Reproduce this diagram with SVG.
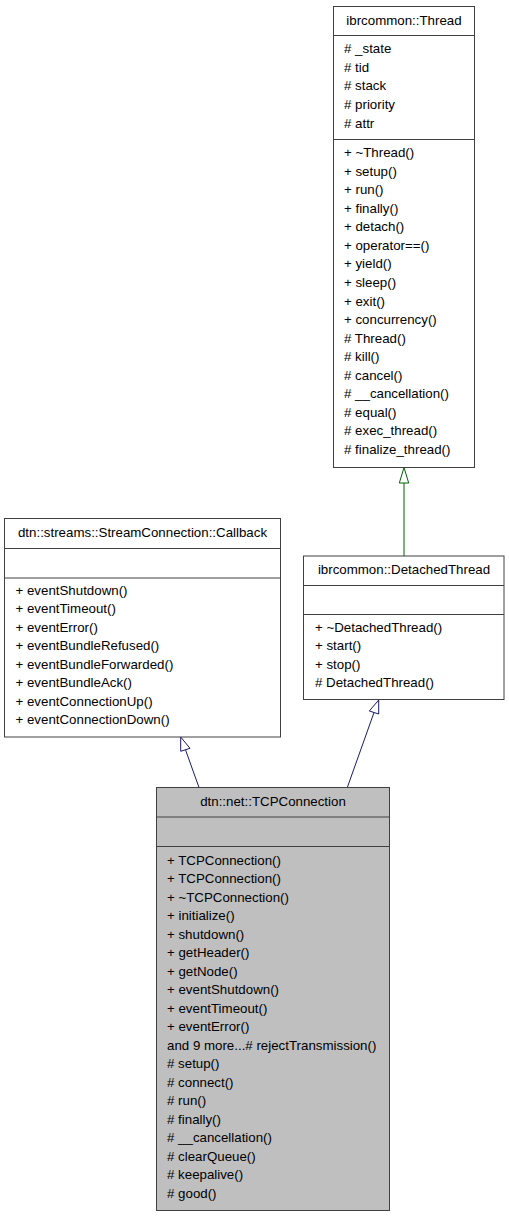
<svg xmlns="http://www.w3.org/2000/svg" width="509" height="1219" viewBox="0 0 509 1219">
<style>
text{font-family:"Liberation Sans",Arial,sans-serif;font-size:13.3px;fill:#000}
.t{text-anchor:middle}
.box{fill:#fff;stroke:#404040;stroke-width:1}
.gray{fill:#bfbfbf}
.sep{stroke:#404040;stroke-width:1}
.blue{stroke:#191970;stroke-width:1;fill:none}
.green{stroke:#006400;stroke-width:1;fill:none}
.hb{fill:#fff;stroke:#191970;stroke-width:1}
.hg{fill:#fff;stroke:#006400;stroke-width:1}
</style>
<rect width="509" height="1219" fill="#fff"/>
<g id="connectors">
<polyline class="green" points="404,556 404,483"/>
<polygon class="hg" points="404,467.5 399.3,483 408.7,483"/>
<polyline class="blue" points="199,787.5 185.5,749.8"/>
<polygon class="hb" points="180.7,737 180.7,751.3 190,748.3"/>
<polyline class="blue" points="347.3,787.5 374,712.5"/>
<polygon class="hb" points="378.7,700 369.3,711 378.7,714"/>
</g>
<g id="thread">
<rect class="box" x="333.5" y="6.5" width="141" height="461"/>
<line class="sep" x1="333.5" y1="35.5" x2="474.5" y2="35.5"/>
<line class="sep" x1="333.5" y1="139.5" x2="474.5" y2="139.5"/>
<text class="t" x="404" y="25">ibrcommon::Thread</text>
<text x="344" y="53"># _state</text>
<text x="344" y="71.7"># tid</text>
<text x="344" y="90.3"># stack</text>
<text x="344" y="109"># priority</text>
<text x="344" y="127.7"># attr</text>
<text x="344" y="157">+ ~Thread()</text>
<text x="344" y="175.6">+ setup()</text>
<text x="344" y="194.1">+ run()</text>
<text x="344" y="212.7">+ finally()</text>
<text x="344" y="231.2">+ detach()</text>
<text x="344" y="249.8">+ operator==()</text>
<text x="344" y="268.4">+ yield()</text>
<text x="344" y="286.9">+ sleep()</text>
<text x="344" y="305.5">+ exit()</text>
<text x="344" y="324">+ concurrency()</text>
<text x="344" y="342.6"># Thread()</text>
<text x="344" y="361.2"># kill()</text>
<text x="344" y="379.7"># cancel()</text>
<text x="344" y="398.3"># __cancellation()</text>
<text x="344" y="416.8"># equal()</text>
<text x="344" y="435.4"># exec_thread()</text>
<text x="344" y="454"># finalize_thread()</text>
</g>
<g id="callback">
<rect class="box" x="4.5" y="518.5" width="276" height="218.5"/>
<line class="sep" x1="4.5" y1="548.5" x2="280.5" y2="548.5"/>
<line class="sep" x1="4.5" y1="578" x2="280.5" y2="578"/>
<text class="t" x="142.5" y="536.5">dtn::streams::StreamConnection::Callback</text>
<text x="15.5" y="595">+ eventShutdown()</text>
<text x="15.5" y="613.4">+ eventTimeout()</text>
<text x="15.5" y="631.9">+ eventError()</text>
<text x="15.5" y="650.3">+ eventBundleRefused()</text>
<text x="15.5" y="668.8">+ eventBundleForwarded()</text>
<text x="15.5" y="687.2">+ eventBundleAck()</text>
<text x="15.5" y="705.7">+ eventConnectionUp()</text>
<text x="15.5" y="724.1">+ eventConnectionDown()</text>
</g>
<g id="detachedthread">
<rect class="box" x="303.5" y="556" width="200.5" height="143.5"/>
<line class="sep" x1="303.5" y1="585.5" x2="504" y2="585.5"/>
<line class="sep" x1="303.5" y1="614.5" x2="504" y2="614.5"/>
<text class="t" x="404" y="573.5">ibrcommon::DetachedThread</text>
<text x="315" y="632">+ ~DetachedThread()</text>
<text x="315" y="650.4">+ start()</text>
<text x="315" y="668.8">+ stop()</text>
<text x="315" y="687.2"># DetachedThread()</text>
</g>
<g id="tcpconnection">
<rect class="box gray" x="156.5" y="787.5" width="233" height="423"/>
<line class="sep" x1="156.5" y1="817" x2="389.5" y2="817"/>
<line class="sep" x1="156.5" y1="846.5" x2="389.5" y2="846.5"/>
<text class="t" x="273" y="806">dtn::net::TCPConnection</text>
<text x="167" y="864.5">+ TCPConnection()</text>
<text x="167" y="883">+ TCPConnection()</text>
<text x="167" y="901.5">+ ~TCPConnection()</text>
<text x="167" y="920">+ initialize()</text>
<text x="167" y="938.5">+ shutdown()</text>
<text x="167" y="957">+ getHeader()</text>
<text x="167" y="975.5">+ getNode()</text>
<text x="167" y="994">+ eventShutdown()</text>
<text x="167" y="1012.5">+ eventTimeout()</text>
<text x="167" y="1031">+ eventError()</text>
<text x="167" y="1049.5">and 9 more...# rejectTransmission()</text>
<text x="167" y="1068"># setup()</text>
<text x="167" y="1086.5"># connect()</text>
<text x="167" y="1105"># run()</text>
<text x="167" y="1123.5"># finally()</text>
<text x="167" y="1142"># __cancellation()</text>
<text x="167" y="1160.5"># clearQueue()</text>
<text x="167" y="1179"># keepalive()</text>
<text x="167" y="1197.5"># good()</text>
</g>
</svg>
